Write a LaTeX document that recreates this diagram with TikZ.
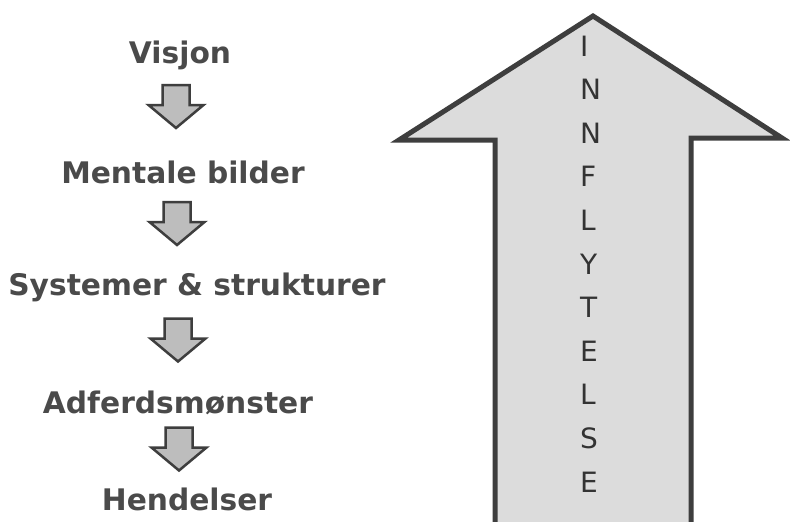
\documentclass[tikz,border=0pt]{standalone}
\usepackage{fontspec}
\setmainfont{DejaVu Sans}
\definecolor{txtgray}{HTML}{4A4A4A}
\definecolor{lettergray}{HTML}{333333}
\definecolor{linegray}{HTML}{3E3E3E}
\definecolor{bigfill}{HTML}{DCDCDC}
\definecolor{smallfill}{HTML}{BDBDBD}
\begin{document}
\begin{tikzpicture}[x=1pt,y=-1pt,
  lbl/.style={font=\bfseries\fontsize{29.7}{32}\selectfont, text=txtgray, anchor=base, inner sep=0},
  letter/.style={font=\fontsize{28}{30}\selectfont, text=lettergray, anchor=base west, inner sep=0},
  bigarrow/.style={fill=bigfill, draw=linegray, line width=5pt, line join=miter},
  smallarrow/.style={fill=smallfill, draw=linegray, line width=2.5pt, line join=miter},
  blockdown/.pic={
    \path[smallarrow] (-13.5,-21.5) -- (13.5,-21.5) -- (13.5,-1.5) -- (27.5,-1.5)
      -- (0,21.5) -- (-27.5,-1.5) -- (-13.5,-1.5) -- cycle;
  }]
\useasboundingbox (0,0) rectangle (790,522);
\fill[white] (0,0) rectangle (790,522);

% big upward arrow (open at the bottom edge)
\path[bigarrow] (495,526) -- (495,140) -- (399,140) -- (593,16) -- (782,138)
  -- (691,138) -- (691,526);

% letters inside the big arrow
\foreach \c [count=\i from 0] in {I,N,N,F,L,Y,T,E,L,S,E}
  \node[letter] (l\i) at (580,{56+43.6*\i}) {\c};

% left column
\node[lbl] (visjon)    at (180,63)  {Visjon};
\node[lbl] (mentale)   at (183,183) {Mentale bilder};
\node[lbl] (systemer)  at (197,295) {Systemer \& strukturer};
\node[lbl] (adferd)    at (178,413) {Adferdsmønster};
\node[lbl] (hendelser) at (187,510) {Hendelser};

\pic (a1) at (176,106.5) {blockdown};
\pic (a2) at (177,223.5) {blockdown};
\pic (a3) at (178,340)   {blockdown};
\pic (a4) at (179,449)   {blockdown};
\end{tikzpicture}
\end{document}
